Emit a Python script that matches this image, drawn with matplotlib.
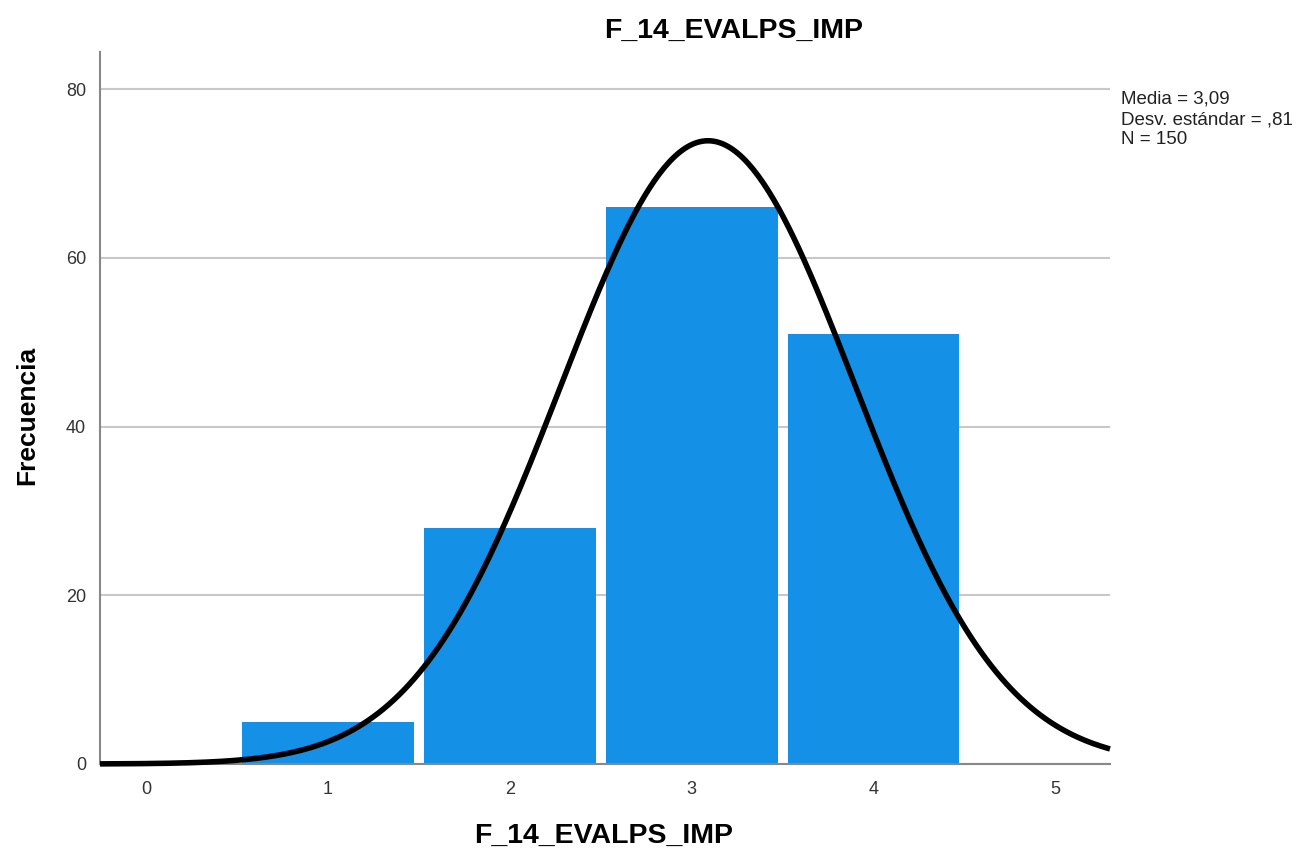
import numpy as np
import matplotlib
matplotlib.use("Agg")
import matplotlib.pyplot as plt

plt.rcParams['font.family'] = ['Liberation Sans', 'DejaVu Sans']

# histogram data
categories = [1, 2, 3, 4]
counts = [5, 28, 66, 51]
mean_val = 3.09
sd_val = 0.81
n_total = 150
x_ticks = [0, 1, 2, 3, 4, 5]
y_ticks = [0, 20, 40, 60, 80]

W, H = 1303, 852
fig = plt.figure(figsize=(W / 100, H / 100), dpi=100)
ax = fig.add_axes([100 / W, 1 - 764 / H, 1010 / W, 712 / H])

ax.bar(categories, counts, width=0.945, color='#1490e6', zorder=2)

xs = np.linspace(-0.253, 5.3, 400)
ys = n_total * np.exp(-0.5 * ((xs - mean_val) / sd_val) ** 2) / (sd_val * np.sqrt(2 * np.pi))
ax.plot(xs, ys, color='black', lw=4, zorder=3, clip_on=False, solid_capstyle='butt')

ax.set_xlim(-0.253, 5.3)
ax.set_ylim(0, 84.4)
ax.set_xticks(x_ticks)
ax.set_yticks(y_ticks)
ax.tick_params(length=0, labelsize=13, colors='#333333', pad=12)
ax.tick_params(axis='y', pad=10)
ax.yaxis.grid(True, color='#c8c8c8', lw=1.5, zorder=0)
ax.set_axisbelow(True)

for s in ['top', 'right']:
    ax.spines[s].set_visible(False)
for s in ['left', 'bottom']:
    ax.spines[s].set_color('#888888')
    ax.spines[s].set_linewidth(1.5)

# titles placed in figure pixels like the SPSS output
fig.text(734 / W, 1 - 31 / H, 'F_14_EVALPS_IMP', fontsize=20.5, fontweight='bold',
         ha='center', va='center')
fig.text(604 / W, 1 - 836 / H, 'F_14_EVALPS_IMP', fontsize=20.5, fontweight='bold',
         ha='center', va='center')
fig.text(27 / W, 1 - 415 / H, 'Frecuencia', fontsize=19, fontweight='bold',
         ha='center', va='center', rotation=90)

stats_txt = 'Media = 3,09\nDesv. estándar = ,81\nN = 150'
fig.text(1121 / W, 1 - 91 / H, stats_txt, fontsize=13.5,
         va='top', ha='left', linespacing=1.25, color='#222222')

fig.savefig('out.png', dpi=100)
